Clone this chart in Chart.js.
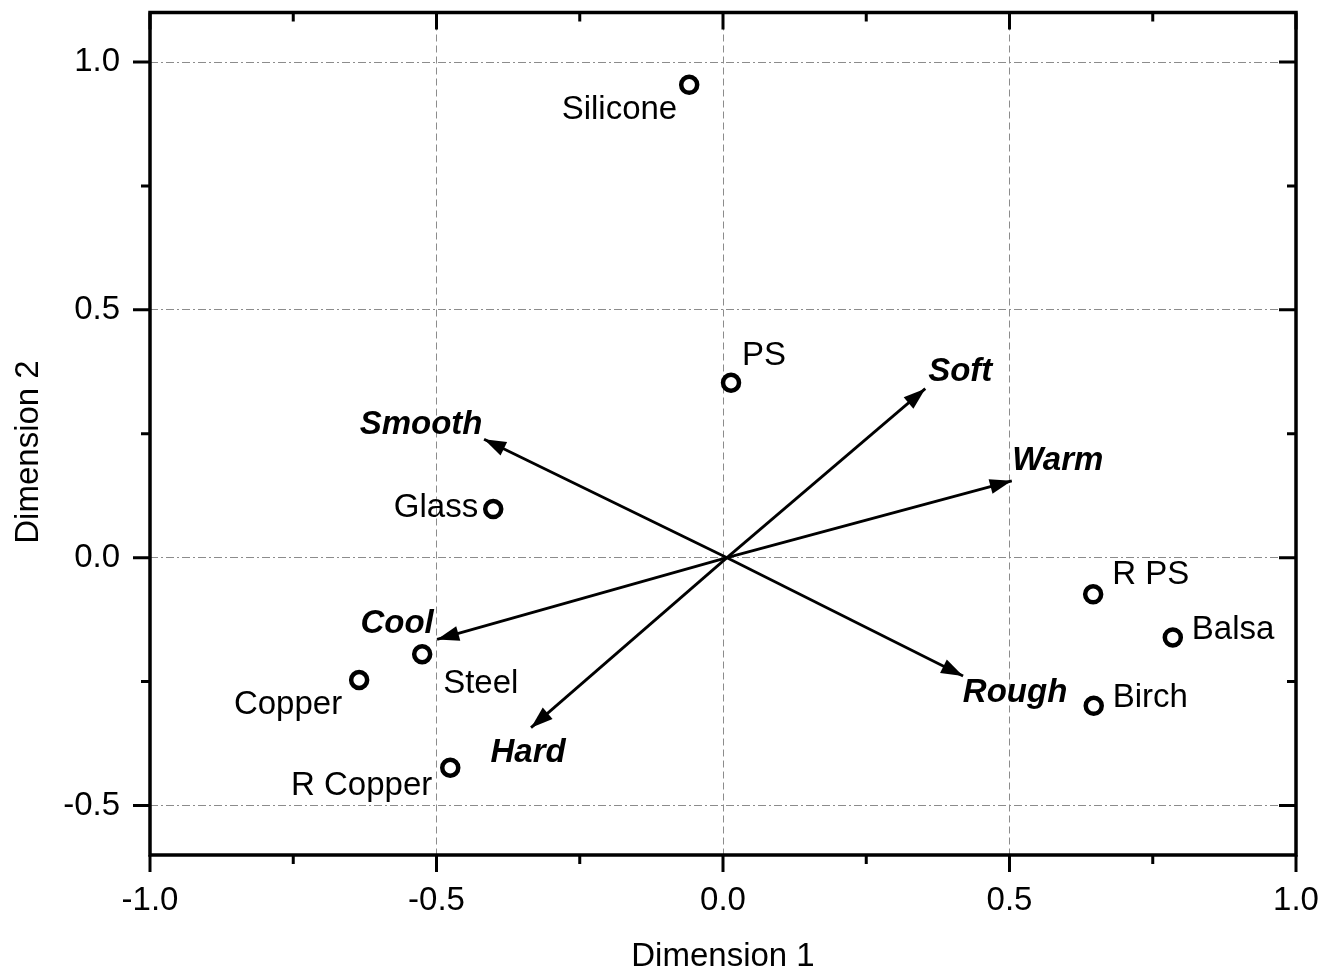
<!DOCTYPE html>
<html>
<head>
<meta charset="utf-8">
<script src="https://cdn.jsdelivr.net/npm/chart.js@4.4.0/dist/chart.umd.min.js"></script>
<style>
    html, body { margin: 0; padding: 0; background: #fff; }
</style>
</head>
<body>
<canvas id="mapChart" width="1329" height="973"></canvas>
<script>
// Materials (points)
const materialNames = ['Silicone', 'PS', 'Glass', 'Steel', 'Copper', 'R Copper', 'R PS', 'Balsa', 'Birch'];
const materialX = [-0.059, 0.014, -0.401, -0.525, -0.635, -0.476, 0.646, 0.785, 0.647];
const materialY = [0.954, 0.353, 0.098, -0.195, -0.247, -0.424, -0.074, -0.161, -0.299];

// Attributes (arrows from the origin)
const attributeNames = ['Soft', 'Warm', 'Smooth', 'Cool', 'Hard', 'Rough'];
const attributeX = [0.353, 0.504, -0.417, -0.499, -0.335, 0.419];
const attributeY = [0.341, 0.155, 0.239, -0.165, -0.343, -0.239];
const arrowOrigin = [0.007, 0.0];

// Axis ticks
const xTicks = [-1.0, -0.5, 0.0, 0.5, 1.0];
const yTicks = [-0.5, 0.0, 0.5, 1.0];
const xMinorTicks = [-0.75, -0.25, 0.25, 0.75];
const yMinorTicks = [-0.25, 0.25, 0.75];

// Label placement next to each mark (pixels)
const materialLabelPlace = [
    { dx: -12, dy: 25, align: 'right' },
    { dx: 11, dy: -27, align: 'left' },
    { dx: -15, dy: -1, align: 'right' },
    { dx: 21, dy: 30, align: 'left' },
    { dx: -17, dy: 25, align: 'right' },
    { dx: -18, dy: 18, align: 'right' },
    { dx: 19, dy: -19, align: 'left' },
    { dx: 19, dy: -8, align: 'left' },
    { dx: 19, dy: -8, align: 'left' }
];
const attributeLabelPlace = [
    { dx: 35, dy: -17 }, { dx: 46, dy: -20 }, { dx: -63, dy: -14 },
    { dx: -40, dy: -16 }, { dx: -3, dy: 25 }, { dx: 52, dy: 17 }
];

const FONT = "'Liberation Sans', Arial, sans-serif";

// Arrowheads, text labels, frame and tick marks
const biplotDecor = {
    id: 'biplotDecor',
    afterDatasetsDraw(chart) {
        const { ctx, scales: { x, y } } = chart;
        const ox = x.getPixelForValue(arrowOrigin[0]);
        const oy = y.getPixelForValue(arrowOrigin[1]);
        ctx.save();
        ctx.fillStyle = '#000';
        attributeNames.forEach((name, i) => {
            const tx = x.getPixelForValue(attributeX[i]);
            const ty = y.getPixelForValue(attributeY[i]);
            const a = Math.atan2(ty - oy, tx - ox);
            const len = 22, half = 7.5;
            const bx = tx - len * Math.cos(a), by = ty - len * Math.sin(a);
            ctx.beginPath();
            ctx.moveTo(tx, ty);
            ctx.lineTo(bx + half * Math.sin(a), by - half * Math.cos(a));
            ctx.lineTo(bx - half * Math.sin(a), by + half * Math.cos(a));
            ctx.closePath();
            ctx.fill();

            const p = attributeLabelPlace[i];
            ctx.font = 'italic bold 33px ' + FONT;
            ctx.textAlign = 'center';
            ctx.textBaseline = 'middle';
            ctx.fillText(name, tx + p.dx, ty + p.dy);
        });

        ctx.font = '33px ' + FONT;
        ctx.textBaseline = 'middle';
        materialNames.forEach((name, i) => {
            const p = materialLabelPlace[i];
            ctx.textAlign = p.align;
            ctx.fillText(name, x.getPixelForValue(materialX[i]) + p.dx, y.getPixelForValue(materialY[i]) + p.dy);
        });
        ctx.restore();
    },
    afterDraw(chart) {
        const { ctx, chartArea: ca, scales: { x, y } } = chart;
        ctx.save();
        ctx.strokeStyle = '#000';
        ctx.lineWidth = 3.5;
        ctx.strokeRect(ca.left, ca.top, ca.right - ca.left, ca.bottom - ca.top);

        ctx.lineWidth = 3;
        ctx.beginPath();
        const major = 17, minor = 9;
        xTicks.forEach(v => {
            const px = x.getPixelForValue(v);
            ctx.moveTo(px, ca.bottom); ctx.lineTo(px, ca.bottom + major);
            ctx.moveTo(px, ca.top); ctx.lineTo(px, ca.top + major);
        });
        xMinorTicks.forEach(v => {
            const px = x.getPixelForValue(v);
            ctx.moveTo(px, ca.bottom); ctx.lineTo(px, ca.bottom + minor);
            ctx.moveTo(px, ca.top); ctx.lineTo(px, ca.top + minor);
        });
        yTicks.forEach(v => {
            const py = y.getPixelForValue(v);
            ctx.moveTo(ca.left, py); ctx.lineTo(ca.left - major, py);
            ctx.moveTo(ca.right, py); ctx.lineTo(ca.right - major, py);
        });
        yMinorTicks.forEach(v => {
            const py = y.getPixelForValue(v);
            ctx.moveTo(ca.left, py); ctx.lineTo(ca.left - minor, py);
            ctx.moveTo(ca.right, py); ctx.lineTo(ca.right - minor, py);
        });
        ctx.stroke();

        // Axis titles
        ctx.fillStyle = '#000';
        ctx.font = '33px ' + FONT;
        ctx.textAlign = 'center';
        ctx.textBaseline = 'middle';
        ctx.fillText('Dimension 1', (ca.left + ca.right) / 2, 957);
        ctx.translate(29, 452);
        ctx.rotate(-Math.PI / 2);
        ctx.fillText('Dimension 2', 0, 0);
        ctx.restore();
    }
};

function noScalePadding(s) {
    s.paddingLeft = 0;
    s.paddingRight = 0;
    s.paddingTop = 0;
    s.paddingBottom = 0;
}

function buildDatasets() {
    const arrows = attributeNames.map((name, i) => ({
        label: name,
        data: [{ x: arrowOrigin[0], y: arrowOrigin[1] }, { x: attributeX[i], y: attributeY[i] }],
        showLine: true,
        borderColor: '#000',
        borderWidth: 2.8,
        pointRadius: 0,
        order: 2
    }));
    const points = {
        label: 'Materials',
        data: materialNames.map((n, i) => ({ x: materialX[i], y: materialY[i] })),
        pointRadius: 8,
        pointBorderWidth: 4.5,
        pointBorderColor: '#000',
        pointBackgroundColor: '#fff',
        order: 1
    };
    return [points, ...arrows];
}

function initChart() {
    const ctx = document.getElementById('mapChart').getContext('2d');
    new Chart(ctx, {
        type: 'scatter',
        data: { datasets: buildDatasets() },
        options: {
            responsive: false,
            animation: false,
            devicePixelRatio: 1,
            layout: { padding: { top: 10, right: 33, left: 0, bottom: 0 } },
            plugins: { legend: { display: false }, tooltip: { enabled: false } },
            scales: {
                x: {
                    type: 'linear',
                    min: -1.0,
                    max: 1.0,
                    afterBuildTicks: s => { s.ticks = xTicks.map(v => ({ value: v })); },
                    afterFit: s => { s.height = 118; noScalePadding(s); },
                    ticks: {
                        callback: v => v.toFixed(1),
                        font: { family: FONT, size: 33 },
                        color: '#000',
                        padding: 26,
                        maxRotation: 0,
                        autoSkip: false
                    },
                    grid: { color: '#8c8c8c', lineWidth: 1, drawTicks: false },
                    border: { display: false, dash: [7, 4] }
                },
                y: {
                    type: 'linear',
                    min: -0.6,
                    max: 1.1,
                    afterBuildTicks: s => { s.ticks = yTicks.map(v => ({ value: v })); },
                    afterFit: s => { s.width = 150; noScalePadding(s); },
                    ticks: {
                        callback: v => v.toFixed(1),
                        font: { family: FONT, size: 33 },
                        color: '#000',
                        padding: 30,
                        autoSkip: false
                    },
                    grid: { color: '#8c8c8c', lineWidth: 1, drawTicks: false },
                    border: { display: false, dash: [8, 3, 2, 3] }
                }
            }
        },
        plugins: [biplotDecor]
    });
}

document.addEventListener('DOMContentLoaded', initChart);
</script>
</body>
</html>
